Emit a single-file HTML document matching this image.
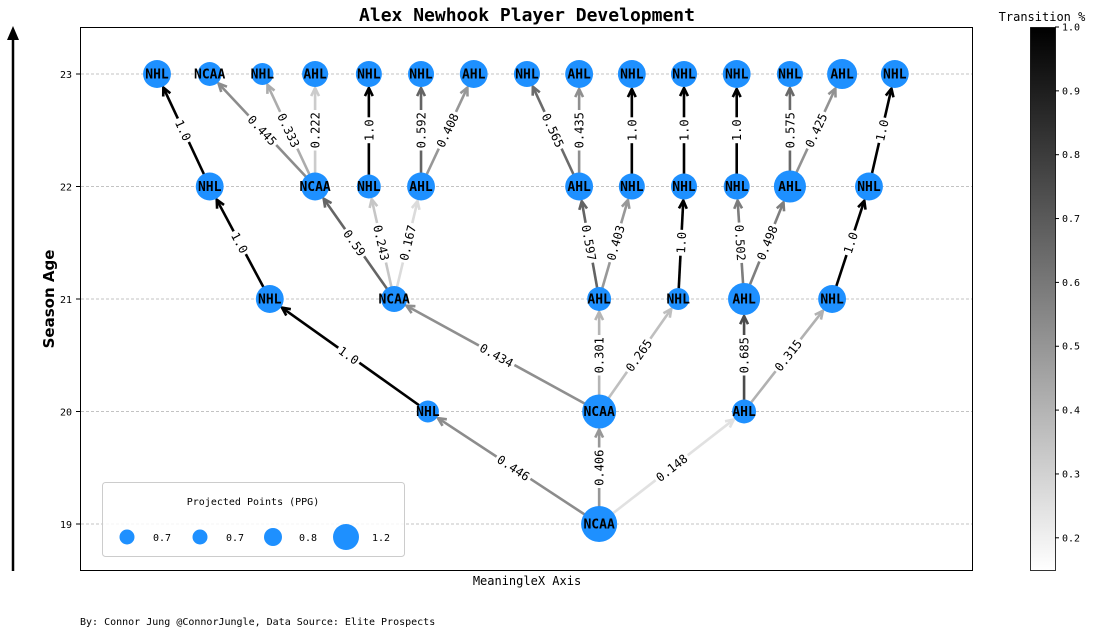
<!DOCTYPE html>
<html><head><meta charset="utf-8"><style>
body{margin:0;background:#fff;width:1093px;height:634px;overflow:hidden}
svg{display:block}
</style></head><body>
<svg id="chart" width="1093" height="634" xmlns="http://www.w3.org/2000/svg">
<defs><linearGradient id="cbg" x1="0" y1="1" x2="0" y2="0"><stop offset="0" stop-color="#fff"/><stop offset="1" stop-color="#000"/></linearGradient></defs>
<text x="527" y="21" text-anchor="middle" font-family="DejaVu Sans Mono, Liberation Mono, monospace" font-weight="bold" font-size="18">Alex Newhook Player Development</text>
<rect x="80.5" y="27.5" width="892" height="543" fill="none" stroke="#000" stroke-width="1"/>
<g id="grid"></g><g id="edges"></g><g id="nodes"></g>
<line x1="13" y1="571" x2="13" y2="36" stroke="#000" stroke-width="2.5"/>
<polygon points="13,26 7,40 19,40" fill="#000"/>
<text transform="translate(54,299) rotate(-90)" text-anchor="middle" font-family="DejaVu Sans, Liberation Sans, sans-serif" font-weight="bold" font-size="15">Season Age</text>
<text x="527" y="585" text-anchor="middle" font-family="DejaVu Sans Mono, Liberation Mono, monospace" font-size="12">MeaningleX Axis</text>
<text x="80" y="625" font-family="DejaVu Sans Mono, Liberation Mono, monospace" font-size="10">By: Connor Jung @ConnorJungle, Data Source: Elite Prospects</text>
<g>
<rect x="102.5" y="482.5" width="302" height="74" rx="3" fill="#fff" fill-opacity="0.85" stroke="#ccc"/>
<text x="253" y="505" text-anchor="middle" font-family="DejaVu Sans Mono, Liberation Mono, monospace" font-size="10">Projected Points (PPG)</text>
<circle cx="127" cy="537" r="7.5" fill="#1e90ff"/><text x="153" y="541" font-family="DejaVu Sans Mono, monospace" font-size="10">0.7</text>
<circle cx="200" cy="537" r="7.5" fill="#1e90ff"/><text x="226" y="541" font-family="DejaVu Sans Mono, monospace" font-size="10">0.7</text>
<circle cx="273" cy="537" r="9" fill="#1e90ff"/><text x="299" y="541" font-family="DejaVu Sans Mono, monospace" font-size="10">0.8</text>
<circle cx="346" cy="537" r="13" fill="#1e90ff"/><text x="372" y="541" font-family="DejaVu Sans Mono, monospace" font-size="10">1.2</text>
</g>
<text x="1042" y="21" text-anchor="middle" font-family="DejaVu Sans Mono, Liberation Mono, monospace" font-size="12">Transition %</text>
<rect x="1030.5" y="27.5" width="25" height="543" fill="url(#cbg)" stroke="#000" stroke-width="0.8"/>
<g id="cbticks"></g>
</svg>
<script>
const NS="http://www.w3.org/2000/svg";
// node data: position index (meaningless x), age, league, ppg
const nodeX=[8.39, 5.14,8.39,11.14, 2.14,4.5,8.39,9.89,11.14,12.81, 1.0,3.0,4.02,5.01,8.01,9.01,10.0,11.0,12.01,13.51, 0,1.0,2.0,3.0,4.02,5.01,6.01,7.02,8.01,9.01,10.0,11.0,12.01,13.0,14.0];
const nodeAge=[19, 20,20,20, 21,21,21,21,21,21, 22,22,22,22,22,22,22,22,22,22, 23,23,23,23,23,23,23,23,23,23,23,23,23,23,23];
const nodeLeague=["NCAA","NHL","NCAA","AHL","NHL","NCAA","AHL","NHL","AHL","NHL","NHL","NCAA","NHL","AHL","AHL","NHL","NHL","NHL","AHL","NHL","NHL","NCAA","NHL","AHL","NHL","NHL","AHL","NHL","AHL","NHL","NHL","NHL","NHL","AHL","NHL"];
const nodePPG=[1.2, 0.6,1.11,0.68, 0.85,0.77,0.68,0.6,1.03,0.85, 0.85,0.85,0.68,0.85,0.85,0.77,0.77,0.77,1.03,0.85, 0.85,0.68,0.6,0.77,0.77,0.77,0.85,0.77,0.85,0.85,0.77,0.85,0.77,0.94,0.85];
// edges
const edgeFrom=[0,0,0, 1, 2,2,2, 3,3, 4, 5,5,5, 6,6, 7, 8,8, 9, 10, 11,11,11, 12, 13,13, 14,14, 15, 16, 17, 18,18, 19];
const edgeTo=[1,2,3, 4, 5,6,7, 8,9, 10, 11,12,13, 14,15, 16, 17,18, 19, 20, 21,22,23, 24, 25,26, 27,28, 29, 30, 31, 32,33, 34];
const edgeP=[0.446,0.406,0.148, 1.0, 0.434,0.301,0.265, 0.685,0.315, 1.0, 0.59,0.243,0.167, 0.597,0.403, 1.0, 0.502,0.498, 1.0, 1.0, 0.445,0.333,0.222, 1.0, 0.592,0.408, 0.565,0.435, 1.0, 1.0, 1.0, 0.575,0.425, 1.0];
const edgeLabel=["0.446","0.406","0.148","1.0","0.434","0.301","0.265","0.685","0.315","1.0","0.59","0.243","0.167","0.597","0.403","1.0","0.502","0.498","1.0","1.0","0.445","0.333","0.222","1.0","0.592","0.408","0.565","0.435","1.0","1.0","1.0","0.575","0.425","1.0"];
const ageTicks=[19,20,21,22,23];
const cbTicks=[0.2,0.3,0.4,0.5,0.6,0.7,0.8,0.9,1.0];
const vmin=0.148,vmax=1.0;

const sx=v=>157+v*52.7;
const sy=a=>524-(a-19)*112.5;
const rad=p=>4+11.7*p;
const col=p=>{let t=(p-vmin)/(vmax-vmin);t=Math.max(0,Math.min(1,t));const g=Math.round(225*Math.pow(1-t,1.1));return `rgb(${g},${g},${g})`;};
const mk=(tag,attrs,parent)=>{const e=document.createElementNS(NS,tag);for(const k in attrs)e.setAttribute(k,attrs[k]);parent.appendChild(e);return e;};

const grid=document.getElementById('grid');
ageTicks.forEach(a=>{
  const l=mk('line',{x1:81,x2:972,y1:sy(a),y2:sy(a),stroke:'#b0b0b0','stroke-width':0.8,'stroke-dasharray':'3,2'},grid);
  
  
  mk('line',{x1:76,x2:80,y1:sy(a),y2:sy(a),stroke:'#000'},grid);
  const t=mk('text',{x:72,y:sy(a)+4,'text-anchor':'end','font-family':'DejaVu Sans Mono, monospace','font-size':10},grid);
  t.textContent=a;
  
  
});

const eg=document.getElementById('edges');
edgeFrom.forEach((f,i)=>{
  const to=edgeTo[i];
  const x1=sx(nodeX[f]),y1=sy(nodeAge[f]),x2=sx(nodeX[to]),y2=sy(nodeAge[to]);
  const dx=x2-x1,dy=y2-y1,L=Math.hypot(dx,dy),ux=dx/L,uy=dy/L;
  const r=rad(nodePPG[to])+1;
  const tx=x2-ux*r,ty=y2-uy*r;
  const c=col(edgeP[i]);
  const g=mk('g',{},eg);
  
  
  mk('line',{x1:x1,y1:y1,x2:tx,y2:ty,stroke:c,'stroke-width':2.6},g);
  const a=Math.atan2(uy,ux),h=9,s=0.45;
  const p1=[tx-h*Math.cos(a-s),ty-h*Math.sin(a-s)],p2=[tx-h*Math.cos(a+s),ty-h*Math.sin(a+s)];
  mk('polyline',{points:`${p1} ${tx},${ty} ${p2}`,fill:'none',stroke:c,'stroke-width':2.6,'stroke-linejoin':'miter'},g);
  let ang=a*180/Math.PI;if(ang>90)ang-=180;if(ang<-90)ang+=180;
  const mx=(x1+x2)/2,my=(y1+y2)/2;
  const lg=mk('g',{transform:`translate(${mx},${my}) rotate(${ang})`},g);
  const w=edgeLabel[i].length*7.3+4;
  mk('rect',{x:-w/2,y:-8,width:w,height:16,fill:'#fff'},lg);
  const t=mk('text',{x:0,y:4.5,'text-anchor':'middle','font-family':'DejaVu Sans Mono, Liberation Mono, monospace','font-size':12},lg);
  t.textContent=edgeLabel[i];
  
  
});

const ng=document.getElementById('nodes');
nodeX.forEach((v,i)=>{
  const g=mk('g',{},ng);
  
  
  mk('circle',{cx:sx(v),cy:sy(nodeAge[i]),r:rad(nodePPG[i]),fill:'#1e90ff'},g);
  const t=mk('text',{x:sx(v),y:sy(nodeAge[i])+4.5,'text-anchor':'middle','font-family':'DejaVu Sans Mono, Liberation Mono, monospace','font-weight':'bold','font-size':13},g);
  t.textContent=nodeLeague[i];
});

const cb=document.getElementById('cbticks');
cbTicks.forEach(v=>{
  const y=27+(vmax-v)/(vmax-vmin)*544;
  mk('line',{x1:1055,x2:1059,y1:y,y2:y,stroke:'#000'},cb);
  const t=mk('text',{x:1062,y:y+3.5,'font-family':'DejaVu Sans Mono, monospace','font-size':10},cb);
  t.textContent=v.toFixed(1);
  
  
});
</script>
</body></html>
